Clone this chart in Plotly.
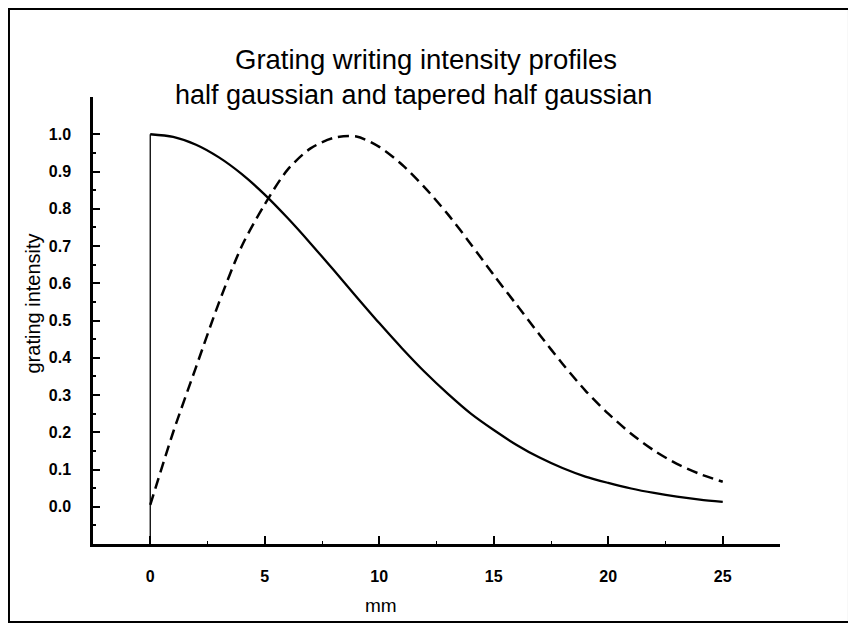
import plotly.graph_objects as go

# ---- data ----
mm = [0, 1, 2, 3, 4, 5, 6, 7, 8, 9, 10, 11, 12, 13, 14, 15, 16, 17, 18, 19, 20, 21, 22, 23, 24, 25]
half_gaussian = [1.000, 0.993, 0.972, 0.938, 0.893, 0.838, 0.775, 0.707, 0.636, 0.564,
                 0.493, 0.425, 0.361, 0.303, 0.250, 0.206, 0.166, 0.132, 0.104, 0.081,
                 0.064, 0.049, 0.037, 0.027, 0.019, 0.013]
tapered_half_gaussian = [0.005, 0.200, 0.375, 0.548, 0.700, 0.812, 0.905, 0.962, 0.990, 0.994,
                         0.966, 0.918, 0.856, 0.785, 0.705, 0.622, 0.542, 0.462, 0.384, 0.312,
                         0.250, 0.196, 0.151, 0.115, 0.088, 0.067]
edge_x = [0, 0]
edge_y = [-0.1, 1.0]

y_tickvals = [0.0, 0.1, 0.2, 0.3, 0.4, 0.5, 0.6, 0.7, 0.8, 0.9, 1.0]
y_ticktext = ["0.0", "0.1", "0.2", "0.3", "0.4", "0.5", "0.6", "0.7", "0.8", "0.9", "1.0"]
x_tickvals = [0, 5, 10, 15, 20, 25]
x_ticktext = ["0", "5", "10", "15", "20", "25"]

title_text = "Grating writing intensity profiles"
subtitle_text = "half gaussian and tapered half gaussian"
y_title = "grating intensity"
x_title = "mm"

FONT = "Liberation Sans, Arial, sans-serif"

fig = go.Figure()
fig.add_trace(go.Scatter(x=edge_x, y=edge_y, mode="lines",
                         line=dict(color="black", width=1.3), showlegend=False, hoverinfo="skip"))
fig.add_trace(go.Scatter(x=mm, y=half_gaussian, mode="lines",
                         line=dict(color="black", width=2.3, shape="spline", smoothing=0.8),
                         showlegend=False))
fig.add_trace(go.Scatter(x=mm, y=tapered_half_gaussian, mode="lines",
                         line=dict(color="black", width=2.5, shape="spline", smoothing=0.8,
                                   dash="11px,6px"),
                         showlegend=False))

# page body has an 8px margin: the figure is sized/offset to compensate
fig.update_layout(
    width=848, height=617,
    margin=dict(l=85, r=76, t=89, b=81),
    paper_bgcolor="white", plot_bgcolor="white",
    font=dict(family=FONT, color="black"),
    showlegend=False,
)

fig.update_xaxes(
    range=[-2.5, 27.5], showgrid=False, zeroline=False,
    showline=True, linecolor="black", linewidth=2.5,
    tickmode="array", tickvals=x_tickvals, ticktext=x_ticktext,
    ticks="inside", ticklen=8, tickwidth=1.5, tickcolor="black",
    ticklabelstandoff=16,
    tickfont=dict(family=FONT, size=16, color="black", weight="bold"),
    minor=dict(tickmode="array", tickvals=[2.5, 7.5, 12.5, 17.5, 22.5],
               ticks="inside", ticklen=3, tickwidth=1, tickcolor="black"),
)
fig.update_yaxes(
    range=[-0.1, 1.1], showgrid=False, zeroline=False,
    showline=True, linecolor="black", linewidth=2.5,
    tickmode="array", tickvals=y_tickvals, ticktext=y_ticktext,
    ticks="inside", ticklen=7, tickwidth=2, tickcolor="black",
    ticklabelstandoff=16,
    tickfont=dict(family=FONT, size=16, color="black", weight="bold"),
    minor=dict(tickmode="array",
               tickvals=[-0.05, 0.05, 0.15, 0.25, 0.35, 0.45, 0.55, 0.65, 0.75, 0.85, 0.95],
               ticks="inside", ticklen=3, tickwidth=1.5, tickcolor="black"),
)

fig.add_annotation(text=title_text, xref="paper", yref="paper", x=0.4847, y=1.0828,
                   showarrow=False, font=dict(family=FONT, size=27.5, color="black"),
                   xanchor="center", yanchor="middle")
fig.add_annotation(text=subtitle_text, xref="paper", yref="paper", x=0.4658, y=1.0045,
                   showarrow=False, font=dict(family=FONT, size=27, color="black"),
                   xanchor="center", yanchor="middle")
fig.add_annotation(text=y_title, xref="paper", yref="paper", x=-0.088, y=0.537,
                   showarrow=False, textangle=-90, font=dict(family=FONT, size=20, color="black"),
                   xanchor="center", yanchor="middle")
fig.add_annotation(text=x_title, xref="paper", yref="paper", x=0.419, y=-0.1387,
                   showarrow=False, font=dict(family=FONT, size=19, color="black"),
                   xanchor="center", yanchor="middle")

# outer frame of the figure
fig.add_shape(type="rect", xref="paper", yref="paper",
              x0=-0.1223, x1=1.1004, y0=-0.1745, y1=1.1969,
              line=dict(color="black", width=2), layer="below")

fig.write_html("out.html")
